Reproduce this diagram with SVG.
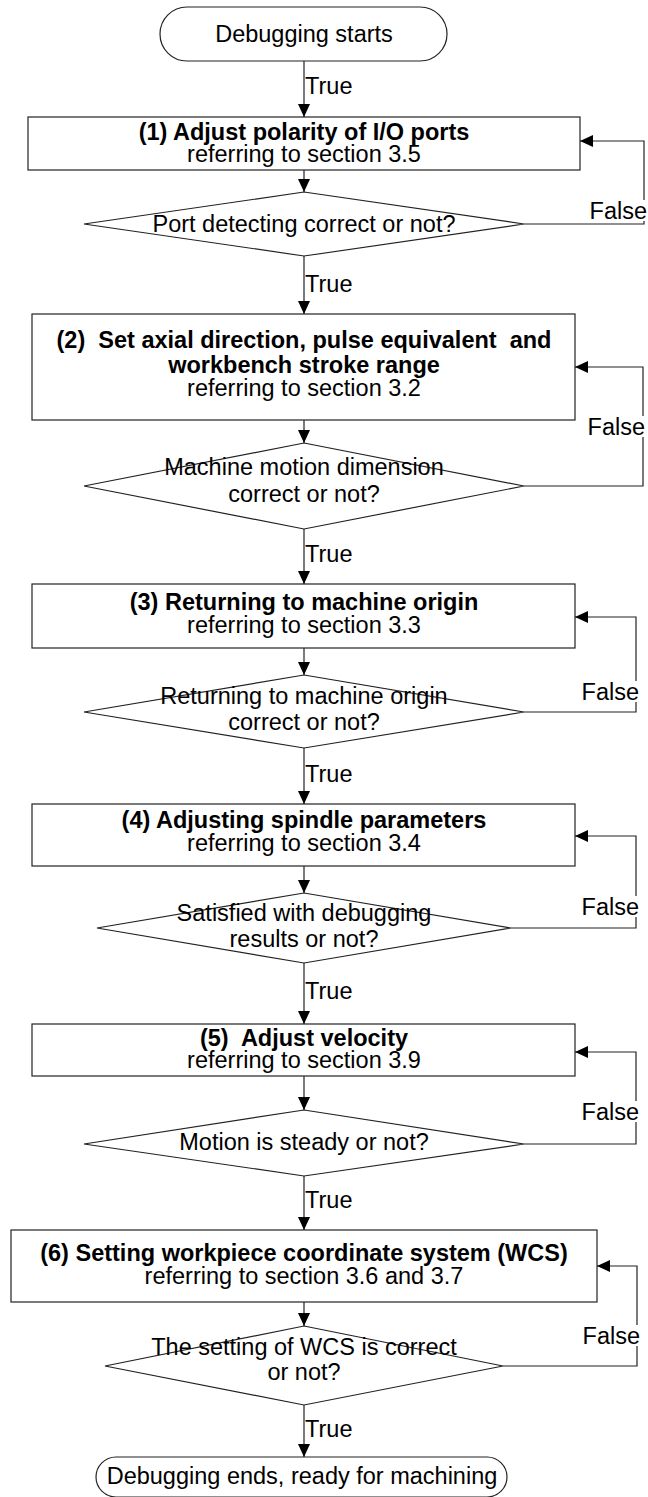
<svg xmlns="http://www.w3.org/2000/svg" width="648" height="1497" viewBox="0 0 648 1497">
<style>
.shape{fill:#fff;stroke:#222;stroke-width:1.2}
.t{font-family:"Liberation Sans",Arial,sans-serif;font-size:23.5px;fill:#000;text-anchor:middle}
.b{font-weight:bold}
.lbl{font-family:"Liberation Sans",Arial,sans-serif;font-size:23.5px;fill:#000}
.conn{fill:none;stroke:#222;stroke-width:1.2}
.bg{fill:#fff}
</style>
<defs>
<marker id="ah" markerWidth="13" markerHeight="12" refX="13" refY="6" orient="auto" markerUnits="userSpaceOnUse">
<path d="M0,0 L13,6 L0,12 Z" fill="#000"/>
</marker>
</defs>
<g id="start">
<rect class="shape" x="160" y="7" width="287" height="54" rx="27" ry="27"/>
<text class="t" x="304" y="42">Debugging starts</text>
</g>
<g id="box1">
<rect class="shape" x="28" y="117" width="552" height="53"/>
<text class="t b" x="304" y="140">(1) Adjust polarity of I/O ports</text>
<text class="t" x="304" y="162">referring to section 3.5</text>
</g>
<g id="dec1">
<polygon class="shape" points="304,192 524,224 304,256 84,224"/>
<text class="t" x="304" y="232">Port detecting correct or not?</text>
</g>
<g id="box2">
<rect class="shape" x="32" y="314" width="543" height="106"/>
<text class="t b" x="304" y="348" xml:space="preserve">(2)  Set axial direction, pulse equivalent  and</text>
<text class="t b" x="304" y="373">workbench stroke range</text>
<text class="t" x="304" y="396">referring to section 3.2</text>
</g>
<g id="dec2">
<polygon class="shape" points="304,443 524,486 304,529 84,486"/>
<text class="t" x="304" y="475">Machine motion dimension</text>
<text class="t" x="304" y="502">correct or not?</text>
</g>
<g id="box3">
<rect class="shape" x="32" y="584" width="543" height="64"/>
<text class="t b" x="304" y="610">(3) Returning to machine origin</text>
<text class="t" x="304" y="633">referring to section 3.3</text>
</g>
<g id="dec3">
<polygon class="shape" points="304,675 524,712 304,748 84,712"/>
<text class="t" x="304" y="704">Returning to machine origin</text>
<text class="t" x="304" y="730">correct or not?</text>
</g>
<g id="box4">
<rect class="shape" x="32" y="804" width="543" height="62"/>
<text class="t b" x="304" y="828">(4) Adjusting spindle parameters</text>
<text class="t" x="304" y="851">referring to section 3.4</text>
</g>
<g id="dec4">
<polygon class="shape" points="304,893 511,928 304,963 97,928"/>
<text class="t" x="304" y="921">Satisfied with debugging</text>
<text class="t" x="304" y="947">results or not?</text>
</g>
<g id="box5">
<rect class="shape" x="32" y="1024" width="543" height="52"/>
<text class="t b" x="304" y="1046" xml:space="preserve">(5)  Adjust velocity</text>
<text class="t" x="304" y="1068">referring to section 3.9</text>
</g>
<g id="dec5">
<polygon class="shape" points="304,1110 524,1144 304,1176 84,1144"/>
<text class="t" x="304" y="1150">Motion is steady or not?</text>
</g>
<g id="box6">
<rect class="shape" x="11" y="1230" width="586" height="72"/>
<text class="t b" x="304" y="1261">(6) Setting workpiece coordinate system (WCS)</text>
<text class="t" x="304" y="1284">referring to section 3.6 and 3.7</text>
</g>
<g id="dec6">
<polygon class="shape" points="304,1326 503,1366 304,1405 105,1366"/>
<text class="t" x="304" y="1355">The setting of WCS is correct</text>
<text class="t" x="304" y="1380">or not?</text>
</g>
<g id="end">
<rect class="shape" x="96" y="1457" width="411" height="40" rx="20" ry="20"/>
<text class="t" x="302" y="1484">Debugging ends, ready for machining</text>
</g>
<g id="connectors">
<path class="conn" d="M304,61 V117" marker-end="url(#ah)"/>
<path class="conn" d="M304,170 V192" marker-end="url(#ah)"/>
<path class="conn" d="M304,256 V314" marker-end="url(#ah)"/>
<path class="conn" d="M304,420 V443" marker-end="url(#ah)"/>
<path class="conn" d="M304,529 V584" marker-end="url(#ah)"/>
<path class="conn" d="M304,648 V675" marker-end="url(#ah)"/>
<path class="conn" d="M304,748 V804" marker-end="url(#ah)"/>
<path class="conn" d="M304,866 V893" marker-end="url(#ah)"/>
<path class="conn" d="M304,963 V1024" marker-end="url(#ah)"/>
<path class="conn" d="M304,1076 V1110" marker-end="url(#ah)"/>
<path class="conn" d="M304,1176 V1230" marker-end="url(#ah)"/>
<path class="conn" d="M304,1302 V1326" marker-end="url(#ah)"/>
<path class="conn" d="M304,1405 V1457" marker-end="url(#ah)"/>
<path class="conn" d="M524,224 H644 V141 H580" marker-end="url(#ah)"/>
<path class="conn" d="M524,486 H643 V367 H575" marker-end="url(#ah)"/>
<path class="conn" d="M524,712 H636 V617 H575" marker-end="url(#ah)"/>
<path class="conn" d="M511,928 H636 V836 H575" marker-end="url(#ah)"/>
<path class="conn" d="M524,1144 H636 V1052 H575" marker-end="url(#ah)"/>
<path class="conn" d="M503,1366 H637 V1266 H597" marker-end="url(#ah)"/>
<text class="lbl" x="305" y="94">True</text>
<text class="lbl" x="305" y="292">True</text>
<text class="lbl" x="305" y="562">True</text>
<text class="lbl" x="305" y="782">True</text>
<text class="lbl" x="305" y="999">True</text>
<text class="lbl" x="305" y="1208">True</text>
<text class="lbl" x="305" y="1437">True</text>
<rect class="bg" x="590" y="200" width="58" height="21"/>
<text class="lbl" x="647" y="219" text-anchor="end">False</text>
<rect class="bg" x="588" y="416" width="58" height="21"/>
<text class="lbl" x="645" y="435" text-anchor="end">False</text>
<rect class="bg" x="582" y="681" width="58" height="21"/>
<text class="lbl" x="639" y="700" text-anchor="end">False</text>
<rect class="bg" x="582" y="896" width="58" height="21"/>
<text class="lbl" x="639" y="915" text-anchor="end">False</text>
<rect class="bg" x="582" y="1101" width="58" height="21"/>
<text class="lbl" x="639" y="1120" text-anchor="end">False</text>
<rect class="bg" x="583" y="1325" width="58" height="21"/>
<text class="lbl" x="640" y="1344" text-anchor="end">False</text>
</g>
</svg>
